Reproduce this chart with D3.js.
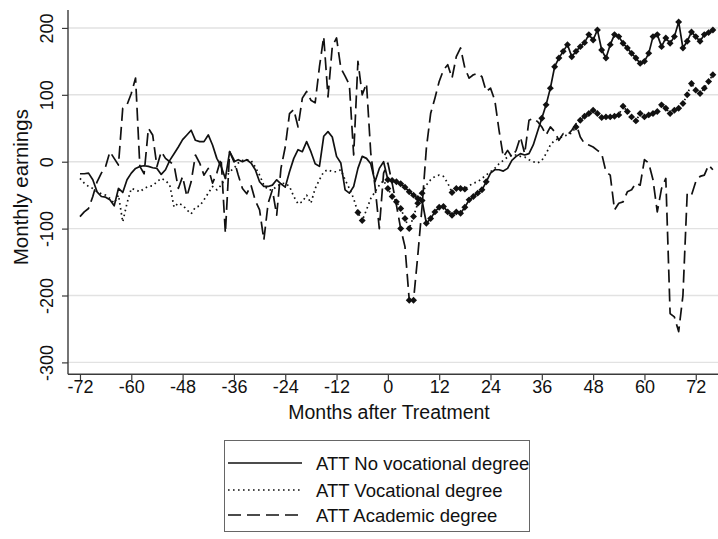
<!DOCTYPE html>
<html><head><meta charset="utf-8">
<script src="https://cdn.jsdelivr.net/npm/d3@7"></script>
<style>
body{margin:0;background:#fff}
svg{display:block}
text{font-family:"Liberation Sans",Arial,Helvetica,sans-serif;fill:#111}
</style>
</head><body>
<svg id="chart" width="718" height="539"></svg>
<script>
// ---------- data ----------
const months = d3.range(-72, 77); // -72 .. 76

const noVocational = [
 -18,-18,-17,-27,-45,-52,-53,-57,-66,-40,-46,-27,-17,-10,-7,-6,-7,-9,-10,-19,
 -12,2,12,22,33,40,47,32,30,30,40,25,5,-7,-25,15,0,3,0,3,
 -2,-12,-30,-37,-37,-35,-27,-33,-38,-15,5,18,15,30,15,-3,-7,38,45,37,
 8,-2,-42,-47,-37,-10,8,5,-3,-30,-10,0,
 -27,-28,-30,-33,-38,-45,-50,-55,-58,-92,-85,-75,-68,-67,-75,-80,-75,-77,-68,-57,
 -52,-47,-42,-30,-17,-12,-12,-14,-10,2,8,12,10,12,25,45,65,85,110,142,
 155,165,175,157,165,172,178,190,182,197,167,155,175,190,187,177,170,162,155,147,
 150,162,187,190,172,185,177,187,209,170,180,194,187,180,190,193,197
];

const vocational = [
 -25,-32,-37,-40,-45,-48,-50,-55,-62,-50,-90,-62,-40,-42,-45,-40,-37,-36,-30,-25,
 -28,-35,-68,-62,-65,-72,-78,-68,-66,-57,-47,-37,-42,-35,-25,-15,-10,-2,2,3,
 2,-8,-20,-35,-42,-42,-37,-33,-32,-37,-52,-63,-60,-50,-62,-40,-27,-15,-12,-15,
 -15,-12,-27,-40,-55,-76,-88,-72,-55,-45,-35,-28,
 -40,-52,-60,-70,-85,-100,-82,-62,-47,-35,-27,-22,-20,-22,-32,-46,-40,-40,-41,-36,
 -32,-30,-25,-20,-15,-10,-3,2,7,10,10,8,7,3,0,-2,2,12,25,32,
 35,38,40,43,52,62,68,72,77,72,66,67,67,68,70,83,75,67,61,72,
 67,70,72,75,85,80,72,77,80,87,100,117,107,102,110,120,130
];

const academic = [
 -82,-75,-70,-52,-30,-17,-7,15,5,-5,80,85,102,125,-7,-18,50,40,-7,15,
 5,0,-5,-40,-22,-52,-30,10,-2,-20,-10,-32,-17,5,-107,15,3,-20,-40,-48,
 -35,-58,-72,-117,-62,-42,-80,-10,22,72,78,52,95,105,92,88,142,187,97,172,
 185,140,128,115,10,150,100,117,13,-37,-100,-17,
 -2,-32,-65,-100,-127,-207,-207,-140,-67,20,72,95,120,137,145,125,157,170,140,125,
 130,132,127,105,110,92,47,7,17,7,17,37,12,62,65,60,52,40,52,45,
 32,42,40,47,57,37,27,25,22,17,12,-15,-20,-72,-62,-60,-45,-42,-32,-35,
 3,-2,-27,-75,-40,-25,-227,-232,-254,-200,-47,-50,-30,-22,-20,-5,-12
];

// months at which the estimate is drawn with a marker (significant)
const markedNoVocational = [[0, 23], [36, 76]];
const markedVocational = [[-7, -6], [0, 8], [15, 18], [44, 76]];
const markedAcademic = [[3, 3], [5, 6]];

const xTicks = [-72, -60, -48, -36, -24, -12, 0, 12, 24, 36, 48, 60, 72];
const yTicks = [-300, -200, -100, 0, 100, 200];
const seriesNames = ["ATT No vocational degree", "ATT Vocational degree", "ATT Academic degree"];
const xTitle = "Months after Treatment";
const yTitle = "Monthly earnings";

// ---------- layout ----------
const svg = d3.select("#chart");
const L = 68, R = 718, T = 10, B = 374.3;
const x = d3.scaleLinear().domain([-74.8, 77.2]).range([L, R]);
const y = d3.scaleLinear().domain([-317.8, 226.8]).range([B, T]);
const fmt = d => String(d);

// gridlines
svg.append("g").selectAll("line").data(yTicks).join("line")
  .attr("x1", L).attr("x2", R)
  .attr("y1", d => y(d)).attr("y2", d => y(d))
  .attr("stroke", "#e2e2e2").attr("stroke-width", 1.4);

// axes
const axisColor = "#3a3a3a";
const gy = svg.append("g").attr("transform", `translate(${L},0)`)
  .call(d3.axisLeft(y).tickValues(yTicks).tickSize(6).tickSizeOuter(0).tickFormat(fmt));
gy.select(".domain").remove();
gy.append("line").attr("x1", 0).attr("x2", 0).attr("y1", T).attr("y2", B)
  .attr("stroke", axisColor).attr("stroke-width", 1.4);
gy.selectAll(".tick line").attr("stroke", axisColor).attr("stroke-width", 1.2);
gy.selectAll(".tick text")
  .attr("x", 0).attr("dy", 0).attr("text-anchor", "middle")
  .attr("transform", "translate(-15,0) rotate(-90)")
  .style("font-size", "18px").attr("fill", "#111");

const gx = svg.append("g").attr("transform", `translate(0,${B})`)
  .call(d3.axisBottom(x).tickValues(xTicks).tickSize(6).tickSizeOuter(0).tickFormat(fmt));
gx.select(".domain").remove();
gx.append("line").attr("x1", L).attr("x2", R).attr("y1", 0).attr("y2", 0)
  .attr("stroke", axisColor).attr("stroke-width", 1.4);
gx.selectAll(".tick line").attr("stroke", axisColor).attr("stroke-width", 1.2);
gx.selectAll(".tick text").attr("y", 19).attr("dy", 0)
  .style("font-size", "18px").attr("fill", "#111");
gy.attr("font-family", null); gx.attr("font-family", null);

// titles
svg.append("text").attr("x", (L + R) / 2 - 4).attr("y", 419)
  .attr("text-anchor", "middle").style("font-size", "19.5px").text(xTitle);
svg.append("text").attr("transform", `translate(28,${(T + B) / 2 - 5}) rotate(-90)`)
  .attr("text-anchor", "middle").style("font-size", "20.5px").text(yTitle);

// series
const styles = [
  { values: noVocational, marked: markedNoVocational, dash: null },
  { values: vocational, marked: markedVocational, dash: "1.6,3.4" },
  { values: academic, marked: markedAcademic, dash: "13,6" }
];
const line = d3.line().x(d => x(d.m)).y(d => y(d.v));
const diamond = { draw(ctx, size) { const r = Math.sqrt(size / 2); ctx.moveTo(0, -r); ctx.lineTo(r, 0); ctx.lineTo(0, r); ctx.lineTo(-r, 0); ctx.closePath(); } };
const inRanges = (m, ranges) => ranges.some(([a, b]) => m >= a && m <= b);

styles.forEach(s => {
  const pts = months.map((m, i) => ({ m, v: s.values[i] }));
  svg.append("path").datum(pts).attr("d", line)
    .attr("fill", "none").attr("stroke", "#111").attr("stroke-width", 1.7)
    .attr("stroke-linejoin", "round")
    .attr("stroke-dasharray", s.dash);
  svg.append("g").selectAll("path").data(pts.filter(p => inRanges(p.m, s.marked))).join("path")
    .attr("transform", p => `translate(${x(p.m)},${y(p.v)})`)
    .attr("d", d3.symbol(diamond, 24)())
    .attr("fill", "#111");
});

// legend
const lg = svg.append("g");
lg.append("rect").attr("x", 224.5).attr("y", 440.5).attr("width", 305).attr("height", 91)
  .attr("fill", "#fff").attr("stroke", "#666").attr("stroke-width", 1);
const rowY = [463, 490, 515];
seriesNames.forEach((name, i) => {
  lg.append("line").attr("x1", 228).attr("x2", 302).attr("y1", rowY[i]).attr("y2", rowY[i])
    .attr("stroke", "#111").attr("stroke-width", 1.7).attr("stroke-dasharray", styles[i].dash);
  lg.append("text").attr("x", 316).attr("y", rowY[i] + 7).style("font-size", "18.5px").text(name);
});
</script>
</body></html>
